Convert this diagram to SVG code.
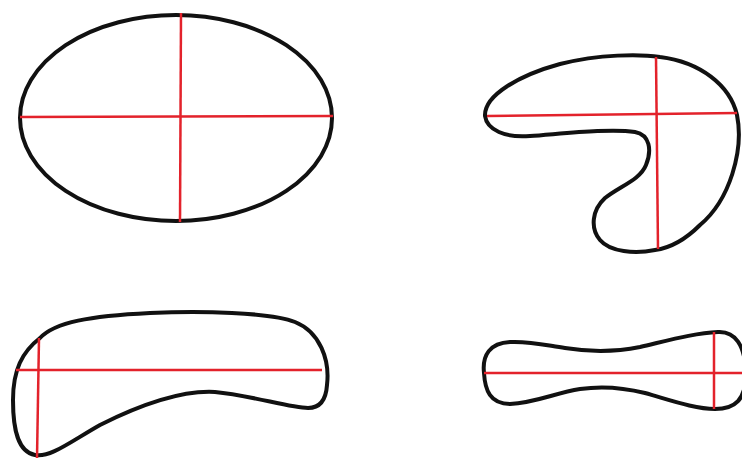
<svg xmlns="http://www.w3.org/2000/svg" width="742" height="459" viewBox="0 0 742 459">
<style>
.outline{fill:none;stroke:#111;stroke-width:4;stroke-linejoin:round}
.axis{stroke:#e3222b;stroke-width:2.5;fill:none}
</style>
<rect width="742" height="459" fill="#fff"/>
<g id="ellipse">
<ellipse class="outline" cx="176" cy="118" rx="156" ry="103"/>
<line class="axis" x1="20" y1="117" x2="333" y2="116"/>
<line class="axis" x1="181" y1="13" x2="180" y2="222"/>
</g>
<g id="kidney">
<path class="outline" d="M485,116 C484,95 520,75 560,64 C600,54 640,54 660,57 C700,62 730,85 737,115 C744,150 730,200 700,225 C685,240 670,248 655,250 C635,254 610,252 600,240 C590,228 592,210 605,198 C620,186 640,180 646,165 C652,150 650,135 635,132 C610,128 560,134 530,136 C505,138 487,130 485,116 Z"/>
<line class="axis" x1="487" y1="116" x2="737" y2="113"/>
<line class="axis" x1="656" y1="57" x2="658" y2="249"/>
</g>
<g id="boomerang">
<path class="outline" d="M40,338 C55,322 90,316 150,313 C200,311 270,312 295,322 C320,332 330,360 327,385 C326,400 320,408 308,408 C290,408 250,395 215,392 C180,390 140,405 100,425 C70,442 50,458 35,455 C18,452 13,430 13,400 C13,370 22,352 40,338 Z"/>
<line class="axis" x1="16" y1="370" x2="322" y2="370"/>
<line class="axis" x1="39" y1="338" x2="37" y2="458"/>
</g>
<g id="dumbbell">
<path class="outline" d="M484,373 C482,355 490,343 510,342 C530,341 545,345 565,348 C590,352 615,352 640,347 C670,340 695,333 718,332 C735,331 745,345 746,373 C746,400 735,409 715,409 C695,409 670,400 645,393 C625,388 600,386 580,389 C555,393 535,403 510,404 C490,404 485,390 484,373 Z"/>
<line class="axis" x1="484" y1="373" x2="742" y2="373"/>
<line class="axis" x1="714" y1="332" x2="714" y2="409"/>
</g>
<g id="connectors"></g>
</svg>
